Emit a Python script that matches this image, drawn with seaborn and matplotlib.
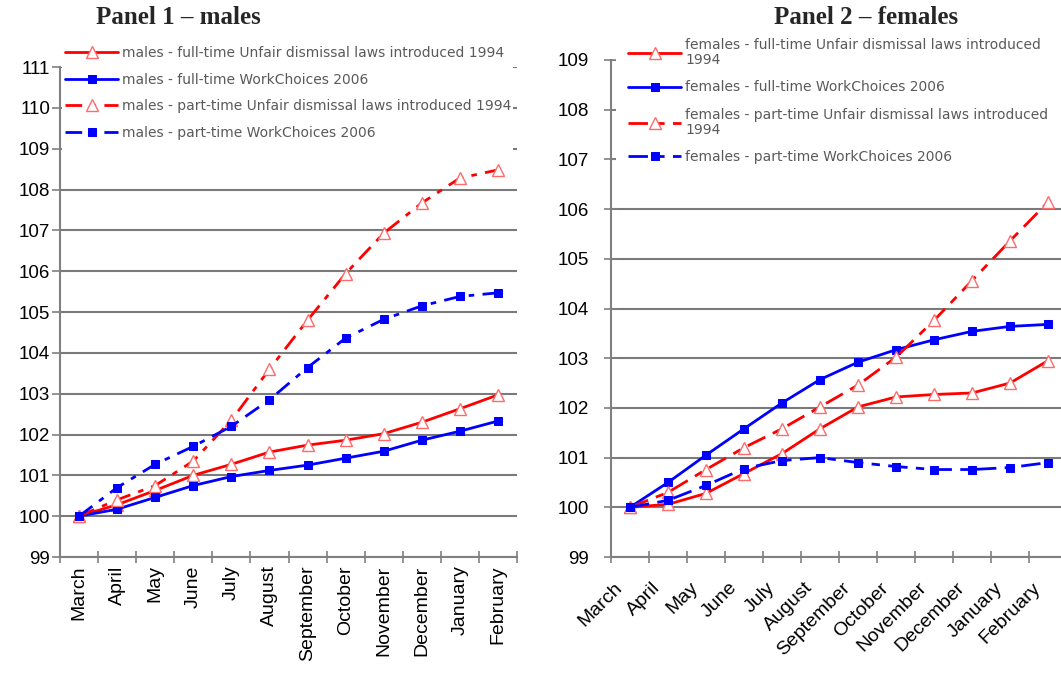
import numpy as np
import matplotlib
matplotlib.use("Agg")
import matplotlib.pyplot as plt
import matplotlib.transforms as mtransforms
from matplotlib.patches import Rectangle
import seaborn as sns

months = ["March", "April", "May", "June", "July", "August", "September",
          "October", "November", "December", "January", "February"]

# Panel 1 - males
m_ft_udl = [100.0, 100.28, 100.63, 101.0, 101.27, 101.57, 101.74, 101.86, 102.02, 102.3, 102.63, 102.97]
m_ft_wc = [100.0, 100.17, 100.46, 100.75, 100.97, 101.12, 101.25, 101.42, 101.59, 101.86, 102.08, 102.33]
m_pt_udl = [100.0, 100.4, 100.75, 101.35, 102.35, 103.6, 104.8, 105.94, 106.93, 107.67, 108.28, 108.48]
m_pt_wc = [100.0, 100.7, 101.27, 101.71, 102.2, 102.85, 103.64, 104.36, 104.82, 105.15, 105.38, 105.47]

# Panel 2 - females
f_ft_udl = [100.0, 100.06, 100.28, 100.68, 101.08, 101.58, 102.02, 102.22, 102.27, 102.3, 102.5, 102.95]
f_ft_wc = [100.0, 100.5, 101.05, 101.58, 102.1, 102.57, 102.92, 103.17, 103.37, 103.54, 103.64, 103.68]
f_pt_udl = [100.0, 100.3, 100.76, 101.2, 101.58, 102.02, 102.46, 103.02, 103.76, 104.56, 105.36, 106.14]
f_pt_wc = [100.0, 100.14, 100.44, 100.78, 100.94, 101.0, 100.9, 100.82, 100.76, 100.76, 100.8, 100.9]

labels_m = ["males - full-time Unfair dismissal laws introduced 1994",
            "males - full-time WorkChoices 2006",
            "males - part-time Unfair dismissal laws introduced 1994",
            "males - part-time WorkChoices 2006"]
labels_f = ["females - full-time Unfair dismissal laws introduced\n1994",
            "females - full-time WorkChoices 2006",
            "females - part-time Unfair dismissal laws introduced\n1994",
            "females - part-time WorkChoices 2006"]

sns.set_style("white")
plt.rcParams['font.family'] = ['Liberation Sans', 'DejaVu Sans']

W, H = 1061, 677
fig = plt.figure(figsize=(W / 100, H / 100), dpi=100)

def fx(px):
    return px / W

def fy(px):
    return 1 - px / H

RED = "#ff0000"
BLUE = "#0000ff"
dashdot = (0, (6, 3, 2, 3))
dashed = (0, (7, 3, 3, 3))

def draw(ax, series, labels, pt_style, ymin, ymax, rot, ypad, tickdir, ticklen):
    styles = [
        dict(color=RED, linestyle="-", marker="^", markerfacecolor="white",
             markeredgecolor="#ff6a6a", markersize=8, markeredgewidth=1.0),
        dict(color=BLUE, linestyle="-", marker="s", markerfacecolor=BLUE,
             markeredgecolor=BLUE, markersize=6),
        dict(color=RED, linestyle=pt_style, marker="^", markerfacecolor="white",
             markeredgecolor="#ff6a6a", markersize=8, markeredgewidth=1.0),
        dict(color=BLUE, linestyle=pt_style, marker="s", markerfacecolor=BLUE,
             markeredgecolor=BLUE, markersize=6),
    ]
    for vals, lab, st in zip(series, labels, styles):
        sns.lineplot(x=months, y=vals, ax=ax, sort=False, label=lab,
                     linewidth=2.0, zorder=3, **st)
    ax.set_xlim(-0.5, 11.5)
    ax.set_ylim(ymin, ymax)
    ax.set_yticks(np.arange(ymin, ymax + 1, 1))
    ax.set_xticks(np.arange(len(months)))
    ax.set_xticklabels(months)
    ax.set_xticks(np.arange(-0.5, 12, 1), minor=True)
    ax.yaxis.grid(True, color="#7a7a7a", linewidth=1.5)
    ax.set_axisbelow(True)
    for s in ["top", "right"]:
        ax.spines[s].set_visible(False)
    for s in ["left", "bottom"]:
        ax.spines[s].set_color("#808080")
        ax.spines[s].set_linewidth(1.5)
    ax.tick_params(axis="y", which="major", direction=tickdir, length=ticklen, width=1.2,
                   color="#808080", labelsize=13.5, labelcolor="black", left=True, pad=ypad)
    ax.tick_params(axis="x", which="major", length=0, labelsize=14, labelcolor="black",
                   pad=6 if rot == 90 else 16)
    ax.tick_params(axis="x", which="minor", direction="inout", length=8, width=1.2,
                   color="#808080", bottom=True)
    ax.set_xlabel("")
    ax.set_ylabel("")
    if rot == 90:
        for t in ax.get_xticklabels():
            t.set_rotation(90)
            t.set_ha("center")
    else:
        off = mtransforms.ScaledTranslation(-0.16, 0, fig.dpi_scale_trans)
        for t in ax.get_xticklabels():
            t.set_rotation(45)
            t.set_ha("right")
            t.set_va("top")
            t.set_rotation_mode("anchor")
            t.set_transform(t.get_transform() + off)

def legend(ax, x0, top, x1, spacing, bg):
    # white background band hiding the top gridlines (as in the original chart)
    ax.add_patch(Rectangle((fx(bg[0]), fy(bg[3])), fx(bg[2] - bg[0]), fy(bg[1]) - fy(bg[3]),
                           transform=fig.transFigure, facecolor="white", edgecolor="none",
                           zorder=1, clip_on=False))
    leg = ax.legend(loc="upper left", bbox_to_anchor=(fx(x0), fy(top) - 0.3, fx(x1 - x0), 0.3),
                    bbox_transform=fig.transFigure, mode="expand", frameon=False,
                    prop={"family": "DejaVu Sans", "size": 10}, handlelength=3.8,
                    labelspacing=spacing, borderpad=0.3, handletextpad=0.3, borderaxespad=0)
    leg.set_zorder(5)
    for t in leg.get_texts():
        t.set_color("#5a5a5a")
        t.set_linespacing(1.1)
    return leg

# Panel 1
ax1 = fig.add_axes([fx(60), fy(557), fx(517 - 60), fy(67) - fy(557)])
draw(ax1, [m_ft_udl, m_ft_wc, m_pt_udl, m_pt_wc], labels_m, dashdot, 99, 111, 90,
     ypad=1, tickdir="out", ticklen=6)
legend(ax1, 61, 42, 530, 0.9, (62, 35, 513, 165))

# Panel 2
ax2 = fig.add_axes([fx(611), fy(557), fx(1067 - 611), fy(60) - fy(557)])
draw(ax2, [f_ft_udl, f_ft_wc, f_pt_udl, f_pt_wc], labels_f, dashed, 99, 109, 45,
     ypad=11, tickdir="inout", ticklen=10)
legend(ax2, 624, 34, 1070, 0.95, (616, 28, 1061, 182))

fig.text(fx(178), fy(18), "Panel 1 \u2013 males", ha="center", va="center",
         family="Liberation Serif", weight="bold", fontsize=18)
fig.text(fx(866), fy(18), "Panel 2 \u2013 females", ha="center", va="center",
         family="Liberation Serif", weight="bold", fontsize=18)

fig.savefig("out.png", dpi=100, facecolor="white")
